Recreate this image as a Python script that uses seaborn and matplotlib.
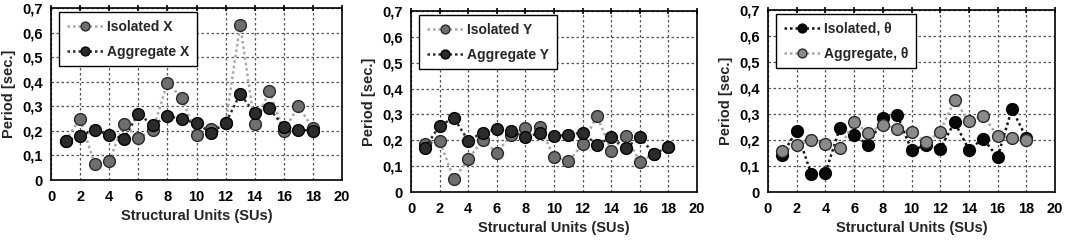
import matplotlib
matplotlib.use("Agg")
import matplotlib.pyplot as plt
import seaborn as sns
import pandas as pd

units = list(range(1, 19))

iso_x = [0.16, 0.25, 0.066, 0.078, 0.228, 0.171, 0.203, 0.396, 0.334, 0.182, 0.209, 0.231,
         0.632, 0.226, 0.362, 0.198, 0.302, 0.21]
agg_x = [0.157, 0.18, 0.204, 0.183, 0.168, 0.27, 0.223, 0.261, 0.248, 0.23, 0.193, 0.231,
         0.35, 0.272, 0.291, 0.217, 0.205, 0.201]

iso_y = [0.186, 0.199, 0.049, 0.127, 0.2, 0.152, 0.22, 0.248, 0.25, 0.137, 0.118, 0.184,
         0.295, 0.16, 0.217, 0.117, 0.148, 0.174]
agg_y = [0.172, 0.257, 0.286, 0.199, 0.229, 0.243, 0.235, 0.213, 0.228, 0.215, 0.222, 0.23,
         0.182, 0.211, 0.17, 0.211, 0.148, 0.174]

iso_t = [0.144, 0.236, 0.071, 0.073, 0.245, 0.219, 0.18, 0.284, 0.298, 0.161, 0.179, 0.166,
         0.269, 0.163, 0.205, 0.134, 0.32, 0.208]
agg_t = [0.156, 0.18, 0.2, 0.185, 0.171, 0.27, 0.226, 0.259, 0.244, 0.232, 0.191, 0.232,
         0.353, 0.273, 0.292, 0.217, 0.208, 0.199]

x_ticks = [0, 2, 4, 6, 8, 10, 12, 14, 16, 18, 20]
y_ticks = [0, 0.1, 0.2, 0.3, 0.4, 0.5, 0.6, 0.7]
y_tick_labels = ["0", "0,1", "0,2", "0,3", "0,4", "0,5", "0,6", "0,7"]

x_label = "Structural Units (SUs)"
y_label = "Period [sec.]"

panels = [
    (("Isolated X", iso_x, "gray"), ("Aggregate X", agg_x, "dark")),
    (("Isolated Y", iso_y, "gray"), ("Aggregate Y", agg_y, "dark")),
    (("Isolated, \u03b8", iso_t, "dark"), ("Aggregate, \u03b8", agg_t, "gray")),
]

styles = {
    "gray": dict(line="#a8a8a8", face="#6e6e6e", edge="#2a2a2a"),
    "dark": dict(line="#2e2e2e", face="#2b2b2b", edge="#000000"),
}
styles_t = {
    "gray": dict(line="#a8a8a8", face="#8a8a8a", edge="#2a2a2a"),
    "dark": dict(line="#111111", face="#080808", edge="#000000"),
}

sns.set_style("white")
plt.rcParams["font.family"] = ["Liberation Sans", "DejaVu Sans"]
plt.rcParams["font.weight"] = "bold"

W, H = 1065, 241
fig = plt.figure(figsize=(W / 100, H / 100), dpi=100)

boxes = [(51, 342, 8, 180), (411, 697, 11, 192), (768, 1055, 10, 192)]

for i, (box, series) in enumerate(zip(boxes, panels)):
    l, r, t, b = box
    ax = fig.add_axes([l / W, (H - b) / H, (r - l) / W, (b - t) / H])
    st = styles_t if i == 2 else styles
    for name, vals, kind in series:
        s = st[kind]
        df = pd.DataFrame({"unit": units, "period": vals})
        sns.lineplot(data=df, x="unit", y="period", ax=ax, label=name,
                     color=s["line"], linestyle=(0, (1, 1.2)), linewidth=1.8,
                     marker="o", markersize=8.5, markerfacecolor=s["face"],
                     markeredgecolor=s["edge"], markeredgewidth=1.0)
    ax.set_xlim(0, 20)
    ax.set_ylim(0, 0.7)
    ax.set_xticks(x_ticks)
    ax.set_yticks(y_ticks)
    ax.set_yticklabels(y_tick_labels)
    ax.grid(True, linestyle=(0, (2, 2)), color="#555555", linewidth=0.9)
    ax.set_axisbelow(True)
    for sp in ax.spines.values():
        sp.set_visible(True)
        sp.set_color("black")
        sp.set_linewidth(1.2)
    ax.tick_params(axis="both", direction="inout", length=6, width=1.2,
                   labelsize=10.5, colors="black", pad=3, top=True, right=False)
    ax.tick_params(axis="x", top=True, labeltop=False, length=5, pad=4.5)
    for lab in ax.get_xticklabels() + ax.get_yticklabels():
        lab.set_fontweight("bold")
    ax.set_xlabel(x_label, fontsize=10.5, fontweight="bold", labelpad=4)
    ax.set_ylabel(y_label, fontsize=10.5, fontweight="bold", labelpad=4)
    bx = 8 / (r - l)
    by = 1 - 4 / (b - t)
    leg = ax.legend(loc="upper left", bbox_to_anchor=(bx, by), borderaxespad=0,
                    fontsize=10, handlelength=2.6, handletextpad=0.3,
                    labelspacing=0.8, borderpad=0.55, fancybox=False,
                    framealpha=1, edgecolor="black", markerscale=0.75)
    leg.get_frame().set_linewidth(1.0)
    for txt in leg.get_texts():
        txt.set_fontweight("bold")

fig.savefig("out.png", dpi=100)
